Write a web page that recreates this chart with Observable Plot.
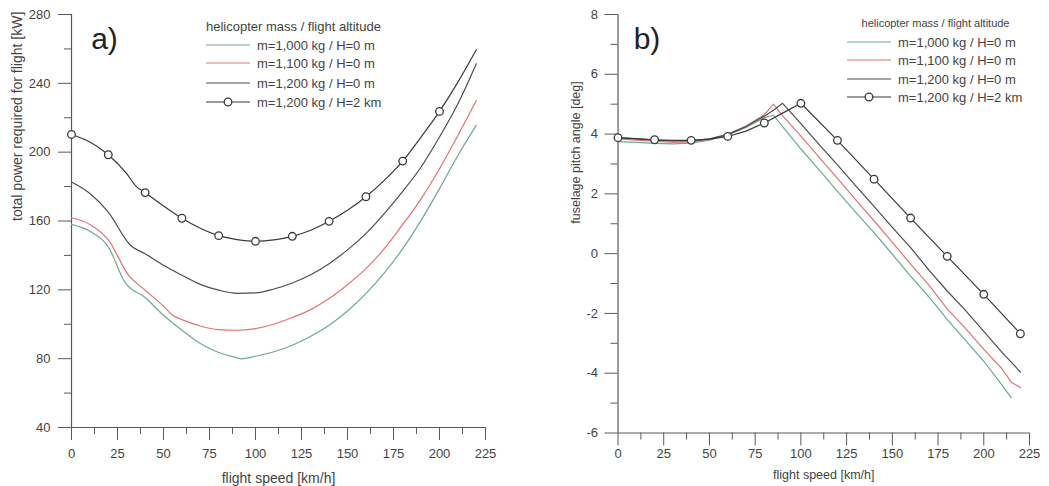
<!DOCTYPE html>
<html><head><meta charset="utf-8">
<script src="https://cdn.jsdelivr.net/npm/d3@7"></script>
<script src="https://cdn.jsdelivr.net/npm/@observablehq/plot@0.6"></script>
<style>
body{margin:0;background:#fff;font-family:"Liberation Sans",Arial,sans-serif;}
#root{position:relative;width:1049px;height:486px;overflow:hidden;background:#fff}
.panel{position:absolute;top:0}
.legend{position:absolute;top:0;left:0;overflow:visible}
</style></head><body><div id="root"></div>
<script>
// ---------- DATA ----------
const seriesNames = ["m=1,000 kg / H=0 m", "m=1,100 kg / H=0 m", "m=1,200 kg / H=0 m", "m=1,200 kg / H=2 km"];
const legendTitle = "helicopter mass / flight altitude";

// Panel a) total power required for flight [kW]
const speedA1000 = [0,10,20,29,40,50,60,70,80,90,92,100,110,120,130,140,150,160,170,180,190,200,210,220];
const powerA1000 = [158,154,145,124.5,115.5,105.2,96.5,88.8,83.6,80.5,79.9,81.4,84,87.8,93,99.4,107.7,117.8,129.8,143.9,160.4,178.8,198.1,215.6];
const speedA1100 = [0,10,20,31,40,50,55,60,70,80,90,100,110,120,130,140,150,160,170,180,190,200,210,220];
const powerA1100 = [161.9,158,149,128.5,119.8,110.5,105.2,102.7,99,96.9,96.5,97.5,100,103.9,108.5,114.9,123,132.3,143.9,158,172.9,190.4,209.7,230];
const speedA1200 = [0,10,20,32,40,50,60,70,80,90,100,110,120,130,140,150,160,170,180,190,200,210,220];
const powerA1200 = [182.7,176,165.2,145.9,141,134.3,128.5,123.2,119.8,118,118.2,120.5,124,128.8,135.2,143.2,152.7,164.3,177.2,191.4,208.8,228.1,251.4];
const speedA1200H2 = [0,10,20,30,35,40,50,60,70,80,90,100,110,120,130,140,150,160,170,180,190,200,210,220];
const powerA1200H2 = [210.3,205.9,198.5,187.5,180.3,176.5,168.7,161.6,155.8,151.5,149.2,148.2,149,151.1,154.6,159.8,166.2,174.1,183.6,194.8,208.8,223.7,240.7,259.5];

// Panel b) fuselage pitch angle [deg]
const speedB1000 = [0,10,20,30,40,50,60,70,80,85,90,100,110,120,130,140,150,160,170,180,190,200,210,215];
const pitchB1000 = [3.75,3.72,3.69,3.67,3.7,3.8,3.97,4.22,4.55,4.63,4.25,3.5,2.8,2.08,1.38,0.7,-0.02,-0.75,-1.45,-2.2,-2.9,-3.6,-4.4,-4.82];
const speedB1100 = [0,10,20,30,40,50,60,70,80,85,90,100,110,120,130,140,150,160,170,180,190,200,210,215,220];
const pitchB1100 = [3.85,3.8,3.76,3.72,3.74,3.83,4.0,4.27,4.65,5.0,4.62,3.93,3.22,2.52,1.8,1.1,0.38,-0.35,-1.05,-1.85,-2.5,-3.2,-3.85,-4.3,-4.48];
const speedB1200 = [0,10,20,30,40,50,60,70,80,85,90,100,110,120,130,140,150,160,170,180,190,200,210,220];
const pitchB1200 = [3.87,3.84,3.8,3.77,3.77,3.84,3.98,4.25,4.6,4.8,5.03,4.35,3.65,2.97,2.27,1.58,0.88,0.2,-0.55,-1.25,-1.9,-2.6,-3.3,-3.96];
const speedB1200H2 = [0,10,20,30,40,50,60,70,80,90,100,120,140,160,180,200,220];
const pitchB1200H2 = [3.88,3.85,3.81,3.79,3.79,3.83,3.92,4.1,4.37,4.7,5.03,3.79,2.49,1.19,-0.09,-1.36,-2.68];

// ticks
const xMajor = [0,25,50,75,100,125,150,175,200,225];
const xMinor = [12.5,37.5,62.5,87.5,112.5,137.5,162.5,187.5,212.5];
const yMajorA = [40,80,120,160,200,240,280];
const yMinorA = [60,100,140,180,220,260];
const yMajorB = [-6,-4,-2,0,2,4,6,8];
const yMinorB = [-5,-3,-1,1,3,5,7];

// ---------- STYLE ----------
const colors = ["#6fa896", "#e07474", "#4d4d4d", "#3a3a3a"];
const axisColor = "#5a5a5a";
const textColor = "#444";
const fmt = d => String(d);

const toRows = (xs, ys) => xs.map((x, i) => ({x, y: ys[i]}));

function makePanel(o) {
  const s = o.series;
  const marks = [
    Plot.ruleX([0], {stroke: axisColor, strokeWidth: 1.2}),
    Plot.ruleY([o.yDomain[0]], {stroke: axisColor, strokeWidth: 1.2}),
    Plot.axisX({ticks: xMajor, tickSize: 13, tickPadding: o.xPad, tickFormat: fmt, fontSize: 13, label: null, stroke: axisColor, fill: textColor}),
    Plot.axisX({ticks: xMinor, tickSize: 7, tickFormat: () => "", label: null, stroke: axisColor}),
    Plot.axisY({ticks: o.yMajor, tickSize: 13, tickPadding: o.yPad, tickFormat: fmt, fontSize: 13, label: null, stroke: axisColor, fill: textColor}),
    Plot.axisY({ticks: o.yMinor, tickSize: 7, tickFormat: () => "", label: null, stroke: axisColor}),
  ];
  s.forEach((d, i) => {
    marks.push(Plot.line(d.rows, {x: "x", y: "y", stroke: colors[i], strokeWidth: 1.2, curve: o.curve}));
  });
  marks.push(Plot.dot(o.markers, {x: "x", y: "y", r: 3.8, stroke: colors[3], fill: "white", strokeWidth: 1.3}));
  marks.push(Plot.text([o.xLabel], {frameAnchor: "bottom", dy: o.xLabelDy, fontSize: o.titleSize, fill: textColor}));
  marks.push(Plot.text([o.yLabel], {frameAnchor: "left", rotate: -90, dx: o.yLabelDx, fontSize: o.titleSize, fill: textColor}));
  marks.push(Plot.text([o.tag], {frameAnchor: "top-left", dx: o.tagDx, dy: o.tagDy, fontSize: 30, fill: "#222", textAnchor: "middle", lineAnchor: "middle"}));
  const svg = Plot.plot({
    width: o.width, height: 486,
    marginLeft: o.ml, marginRight: o.mr, marginTop: o.mt, marginBottom: o.mb,
    x: {domain: [0, 225]},
    y: {domain: o.yDomain},
    style: {fontFamily: '"Liberation Sans", Arial, sans-serif', color: textColor, background: "white"},
    marks
  });
  svg.classList.add("panel");
  svg.style.left = o.left + "px";
  return svg;
}

function makeLegend(lg) {
  const ns = "http://www.w3.org/2000/svg";
  const svg = document.createElementNS(ns, "svg");
  svg.setAttribute("width", 1049); svg.setAttribute("height", 486);
  svg.setAttribute("class", "legend");
  const t = document.createElementNS(ns, "text");
  t.textContent = legendTitle;
  t.setAttribute("x", lg.titleX); t.setAttribute("y", lg.titleY);
  t.setAttribute("text-anchor", lg.titleAnchor);
  t.setAttribute("dominant-baseline", "central");
  t.setAttribute("font-size", lg.titleSize);
  t.setAttribute("fill", textColor);
  t.setAttribute("font-family", '"Liberation Sans", Arial, sans-serif');
  svg.appendChild(t);
  seriesNames.forEach((name, i) => {
    const y = lg.rows[i];
    const l = document.createElementNS(ns, "line");
    l.setAttribute("x1", lg.x1); l.setAttribute("x2", lg.x2);
    l.setAttribute("y1", y); l.setAttribute("y2", y);
    l.setAttribute("stroke", colors[i]); l.setAttribute("stroke-width", 1.2);
    svg.appendChild(l);
    if (i === 3) {
      const c = document.createElementNS(ns, "circle");
      c.setAttribute("cx", (lg.x1 + lg.x2) / 2); c.setAttribute("cy", y); c.setAttribute("r", 3.8);
      c.setAttribute("fill", "white"); c.setAttribute("stroke", colors[3]); c.setAttribute("stroke-width", 1.3);
      svg.appendChild(c);
    }
    const tx = document.createElementNS(ns, "text");
    tx.textContent = name;
    tx.setAttribute("x", lg.textX); tx.setAttribute("y", y);
    tx.setAttribute("dominant-baseline", "central");
    tx.setAttribute("font-size", 13);
    tx.setAttribute("fill", textColor);
    tx.setAttribute("font-family", '"Liberation Sans", Arial, sans-serif');
    svg.appendChild(tx);
  });
  return svg;
}

const root = document.getElementById("root");

const seriesA = [
  {rows: toRows(speedA1000, powerA1000)},
  {rows: toRows(speedA1100, powerA1100)},
  {rows: toRows(speedA1200, powerA1200)},
  {rows: toRows(speedA1200H2, powerA1200H2)}
];
const markersA = toRows(speedA1200H2, powerA1200H2).filter(d => d.x % 20 === 0 && d.x <= 200);

root.appendChild(makePanel({
  left: 0, width: 520, ml: 71, mr: 35, mt: 14, mb: 59,
  yDomain: [40, 280], yMajor: yMajorA, yMinor: yMinorA,
  xPad: 8, yPad: 8, curve: "monotone-x",
  series: seriesA, markers: markersA,
  xLabel: "flight speed [km/h]", yLabel: "total power required for flight [kW]",
  xLabelDy: 55, yLabelDx: -54, titleSize: 14,
  tag: "a)", tagDx: 33, tagDy: 25
}));

const seriesB = [
  {rows: toRows(speedB1000, pitchB1000)},
  {rows: toRows(speedB1100, pitchB1100)},
  {rows: toRows(speedB1200, pitchB1200)},
  {rows: toRows(speedB1200H2, pitchB1200H2)}
];
const markersB = toRows(speedB1200H2, pitchB1200H2).filter(d => d.x % 20 === 0);

root.appendChild(makePanel({
  left: 520, width: 529, ml: 97.5, mr: 20, mt: 14, mb: 53.5,
  yDomain: [-6, 8], yMajor: yMajorB, yMinor: yMinorB,
  xPad: 3, yPad: 7, curve: "linear",
  series: seriesB, markers: markersB,
  xLabel: "flight speed [km/h]", yLabel: "fuselage pitch angle [deg]",
  xLabelDy: 46, yLabelDx: -42.5, titleSize: 12.5,
  tag: "b)", tagDx: 29, tagDy: 25
}));

root.appendChild(makeLegend({titleX: 206, titleY: 26, titleAnchor: "start", titleSize: 13, x1: 206, x2: 250, textX: 257, rows: [45, 63, 83, 102]}));
root.appendChild(makeLegend({titleX: 935.5, titleY: 23, titleAnchor: "middle", titleSize: 11, x1: 847, x2: 891, textX: 898, rows: [42, 60, 79, 97]}));
</script></body></html>
